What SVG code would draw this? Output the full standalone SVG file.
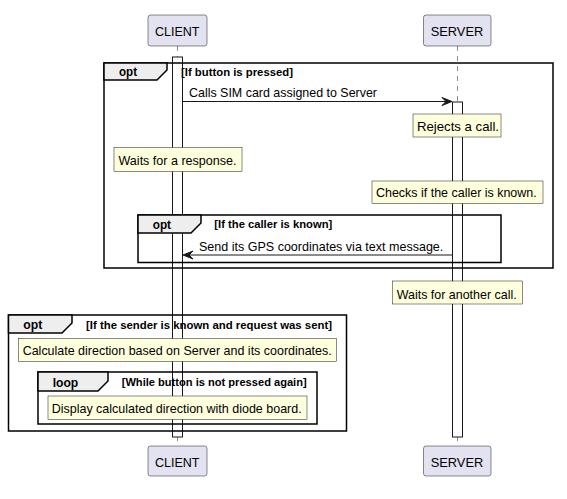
<svg xmlns="http://www.w3.org/2000/svg" width="567" height="499" viewBox="0 0 567 499">
<style>
text{font-family:"Liberation Sans",Arial,sans-serif;fill:#000}
.part rect{fill:#E2E2F0;stroke:#181818;stroke-width:0.5}
.part text{font-size:13.5px}
.life{stroke:#181818;stroke-width:0.5;stroke-dasharray:5,5}
.act{fill:#FFFFFF;stroke:#181818;stroke-width:1}
.frame{fill:none;stroke:#000;stroke-width:1.5}
.tab{fill:#EEEEEE;stroke:#000;stroke-width:1.5}
.kw{font-size:12px;font-weight:bold}
.cond{font-size:11px;font-weight:bold}
.note rect{fill:#FEFFDD;stroke:#181818;stroke-width:0.5}
.note text,.msg text{font-size:13px}
.msg line{stroke:#181818;stroke-width:1}
.msg polygon{fill:#181818;stroke:#181818;stroke-width:1}
</style>
<rect width="567" height="499" fill="#FFFFFF"/>
<g id="lifelines">
<line class="life" x1="177.5" y1="46" x2="177.5" y2="446"/>
<line class="life" x1="457.5" y1="46" x2="457.5" y2="446"/>
<rect class="act" x="172.5" y="57" width="10" height="380"/>
<rect class="act" x="452.5" y="102" width="10" height="335"/>
</g>
<g id="part-client-top" class="part">
<rect x="148" y="15" width="59" height="31" rx="2.5"/>
<text x="155" y="35.7" textLength="44.5" lengthAdjust="spacingAndGlyphs">CLIENT</text>
</g>
<g id="part-server-top" class="part">
<rect x="423.5" y="15" width="67.5" height="31" rx="2.5"/>
<text x="430.7" y="35.7" textLength="52.6" lengthAdjust="spacingAndGlyphs">SERVER</text>
</g>
<g id="part-client-bottom" class="part">
<rect x="148" y="446" width="59" height="30" rx="2.5"/>
<text x="155" y="466.5" textLength="44.5" lengthAdjust="spacingAndGlyphs">CLIENT</text>
</g>
<g id="part-server-bottom" class="part">
<rect x="423.5" y="446" width="67.5" height="30" rx="2.5"/>
<text x="430.7" y="466.5" textLength="52.6" lengthAdjust="spacingAndGlyphs">SERVER</text>
</g>
<g id="group-opt-button">
<rect class="frame" x="104" y="63" width="449" height="205"/>
<polygon class="tab" points="104,63 167,63 167,70 157,80 104,80"/>
<text class="kw" x="119" y="76" textLength="18" lengthAdjust="spacingAndGlyphs">opt</text>
<text class="cond" x="181" y="75.5" textLength="112" lengthAdjust="spacingAndGlyphs">[If button is pressed]</text>
</g>
<g id="group-opt-caller">
<rect class="frame" x="138" y="215" width="363" height="47.5"/>
<polygon class="tab" points="138,215 201,215 201,223 191,233 138,233"/>
<text class="kw" x="152.7" y="228.5" textLength="18.3" lengthAdjust="spacingAndGlyphs">opt</text>
<text class="cond" x="214.3" y="228" textLength="118" lengthAdjust="spacingAndGlyphs">[If the caller is known]</text>
</g>
<g id="group-opt-sender">
<rect class="frame" x="8.5" y="315" width="338" height="116"/>
<polygon class="tab" points="8.5,315 72,315 72,323 62,333 8.5,333"/>
<text class="kw" x="23.3" y="329" textLength="19" lengthAdjust="spacingAndGlyphs">opt</text>
<text class="cond" x="86" y="328.5" textLength="246" lengthAdjust="spacingAndGlyphs">[If the sender is known and request was sent]</text>
</g>
<g id="group-loop">
<rect class="frame" x="38" y="372" width="279" height="52"/>
<polygon class="tab" points="38,372 108,372 108,381 98,391 38,391"/>
<text class="kw" x="52.7" y="386.5" textLength="25.6" lengthAdjust="spacingAndGlyphs">loop</text>
<text class="cond" x="121.7" y="386" textLength="185" lengthAdjust="spacingAndGlyphs">[While button is not pressed again]</text>
</g>
<g id="note-rejects" class="note">
<rect x="413" y="114" width="88" height="23"/>
<text x="417" y="131" textLength="82" lengthAdjust="spacingAndGlyphs">Rejects a call.</text>
</g>
<g id="note-waits-response" class="note">
<rect x="114" y="147.5" width="128" height="24"/>
<text x="118.5" y="165" textLength="118" lengthAdjust="spacingAndGlyphs">Waits for a response.</text>
</g>
<g id="note-checks" class="note">
<rect x="372" y="181" width="171" height="22.5"/>
<text x="376" y="196.7" textLength="160.7" lengthAdjust="spacingAndGlyphs">Checks if the caller is known.</text>
</g>
<g id="note-waits-another" class="note">
<rect x="392.5" y="281" width="130" height="23"/>
<text x="396.7" y="299" textLength="120" lengthAdjust="spacingAndGlyphs">Waits for another call.</text>
</g>
<g id="note-calculate" class="note">
<rect x="18.5" y="338.5" width="318" height="23"/>
<text x="22.7" y="355" textLength="309" lengthAdjust="spacingAndGlyphs">Calculate direction based on Server and its coordinates.</text>
</g>
<g id="note-display" class="note">
<rect x="48" y="396" width="259" height="23.5"/>
<text x="51.7" y="413.3" textLength="250" lengthAdjust="spacingAndGlyphs">Display calculated direction with diode board.</text>
</g>
<g id="connectors" class="msg">
<line x1="182.5" y1="101.5" x2="450" y2="101.5"/>
<polygon points="452,101.5 442,97.5 446,101.5 442,105.5"/>
<text x="189" y="97.3" textLength="188" lengthAdjust="spacingAndGlyphs">Calls SIM card assigned to Server</text>
<line x1="452.5" y1="255" x2="185" y2="255"/>
<polygon points="183,255 193,251 189,255 193,259"/>
<text x="199" y="250.7" textLength="244.3" lengthAdjust="spacingAndGlyphs">Send its GPS coordinates via text message.</text>
</g>
</svg>
